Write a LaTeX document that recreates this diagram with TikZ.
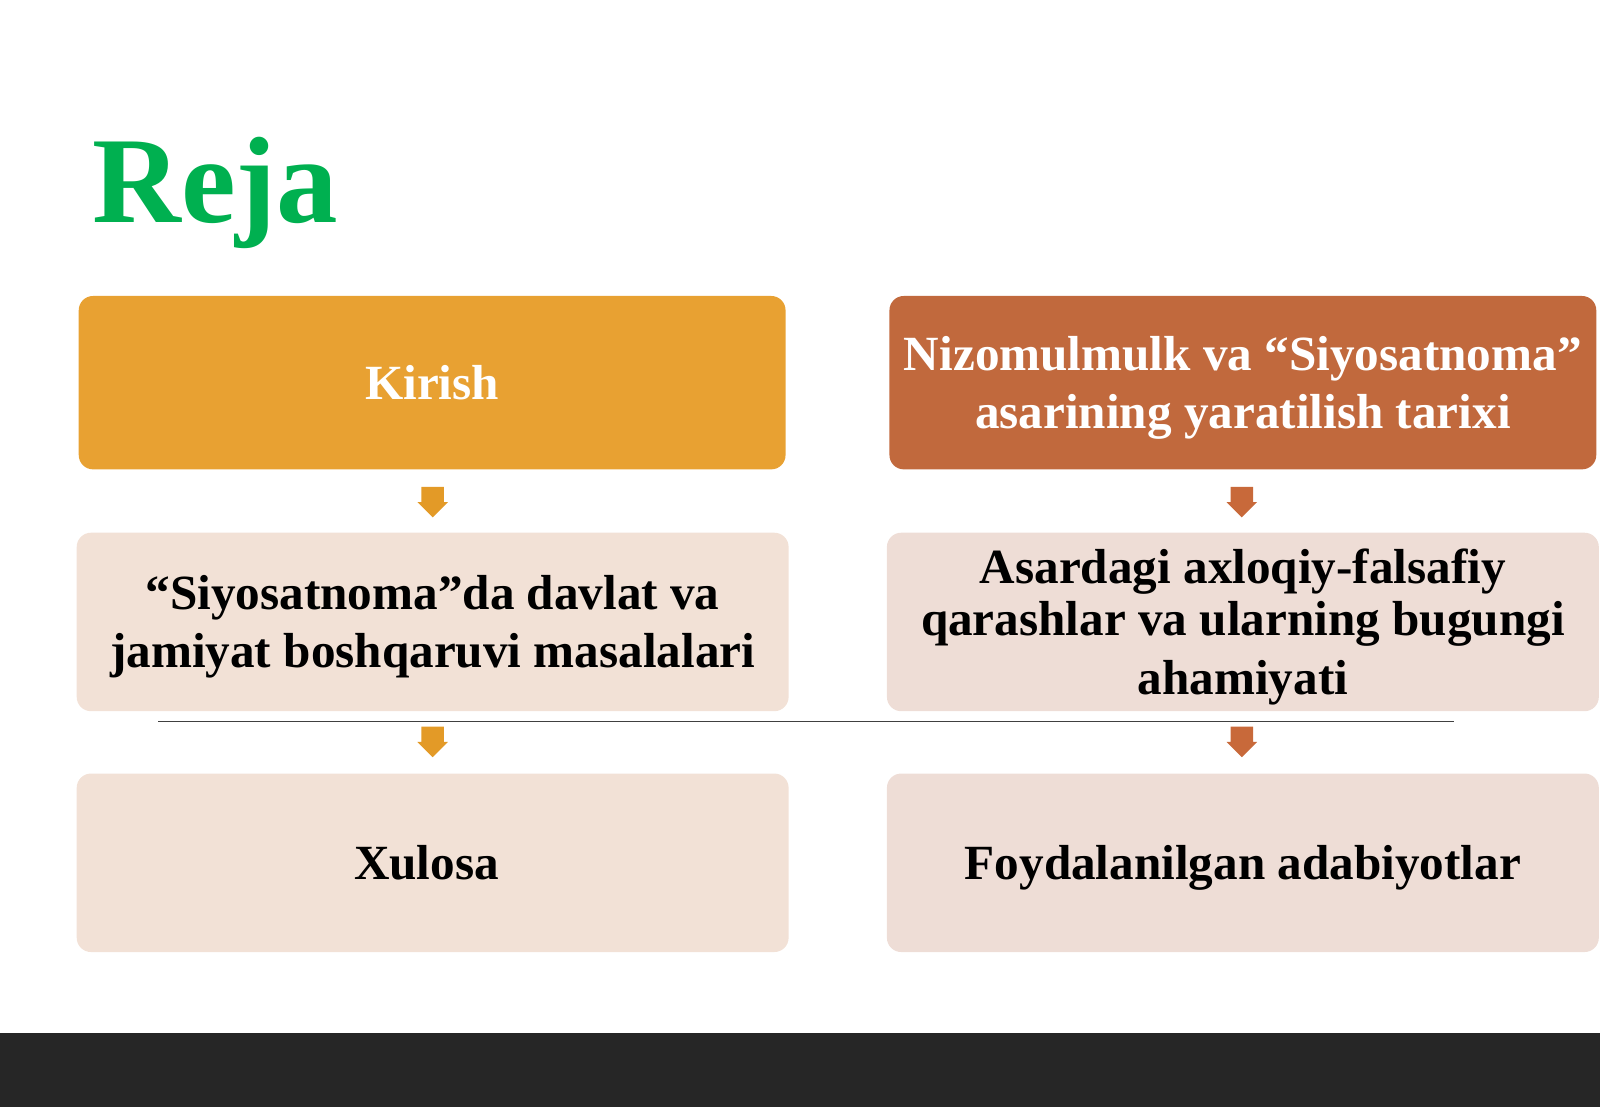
\documentclass[tikz,border=0pt]{standalone}
\usepackage{fontspec}
\setmainfont{Liberation Serif}
\definecolor{rejagreen}{HTML}{00B050}
\definecolor{boxorange}{HTML}{E8A132}
\definecolor{boxbrown}{HTML}{C1693D}
\definecolor{boxlight}{HTML}{F2E1D6}
\definecolor{boxlightr}{HTML}{EEDDD6}
\definecolor{arrorange}{HTML}{E39A27}
\definecolor{arrbrown}{HTML}{C8693A}
\definecolor{bandgray}{HTML}{262626}
\newcommand\pstrut{\rule[-0.216em]{0pt}{1.107em}}
\tikzset{
  planbox/.style={rounded corners=14*0.2903pt,minimum width=698*0.2903pt,minimum height=175*0.2903pt,
    align=center,inner sep=0pt,font=\bfseries\fontsize{14}{15}\selectfont},
  topbox/.style={planbox,minimum width=693*0.2903pt,minimum height=170*0.2903pt,text=white}
}
\begin{document}
\begin{tikzpicture}[x=0.010204cm,y=-0.010204cm]
  \useasboundingbox (0,0) rectangle (1568,1085);
  \fill[bandgray] (0,1012) rectangle (1568,1085);

  \node[anchor=base west,inner sep=0pt,text=rejagreen,font=\bfseries\fontsize{35}{40}\selectfont] (title) at (90,218) {Reja};

  % first row
  \node[topbox,fill=boxorange] (kirish) at (423.5,375) {\pstrut Kirish\pstrut};
  \node[topbox,fill=boxbrown] (tarix) at (1218,375) {\pstrut Nizomulmulk va “Siyosatnoma”\\asarining yaratilish tarixi\pstrut};
  % second row
  \node[planbox,fill=boxlight] (davlat) at (424,609.5)
    {\pstrut “Siyosatnoma”da davlat va\\jamiyat boshqaruvi masalalari\pstrut};
  \node[planbox,fill=boxlightr] (qarash) at (1218,609.5)
    {\pstrut Asardagi axloqiy-falsafiy\\qarashlar va ularning bugungi\\ahamiyati\pstrut};
  % third row
  \node[planbox,fill=boxlight] (xulosa) at (424,845.5) {\pstrut Xulosa\hspace*{3.5pt}\pstrut};
  \node[planbox,fill=boxlightr] (adab) at (1218,845.5) {\pstrut Foydalanilgan adabiyotlar\pstrut};

  \coordinate (ruleL) at (155,707);
  \coordinate (ruleR) at (1425,707);
  \draw[line width=0.5pt,color=black!75] (ruleL) -- (ruleR);

  \foreach \x/\y/\c in {424/477/arrorange,1217/477/arrbrown,424/712/arrorange,1217/712/arrbrown}
    \fill[\c] (\x-11,\y) -- (\x+11,\y) -- (\x+11,\y+15) -- (\x+15,\y+15) -- (\x,\y+30)
      -- (\x-15,\y+15) -- (\x-11,\y+15) -- cycle;
\end{tikzpicture}
\end{document}
